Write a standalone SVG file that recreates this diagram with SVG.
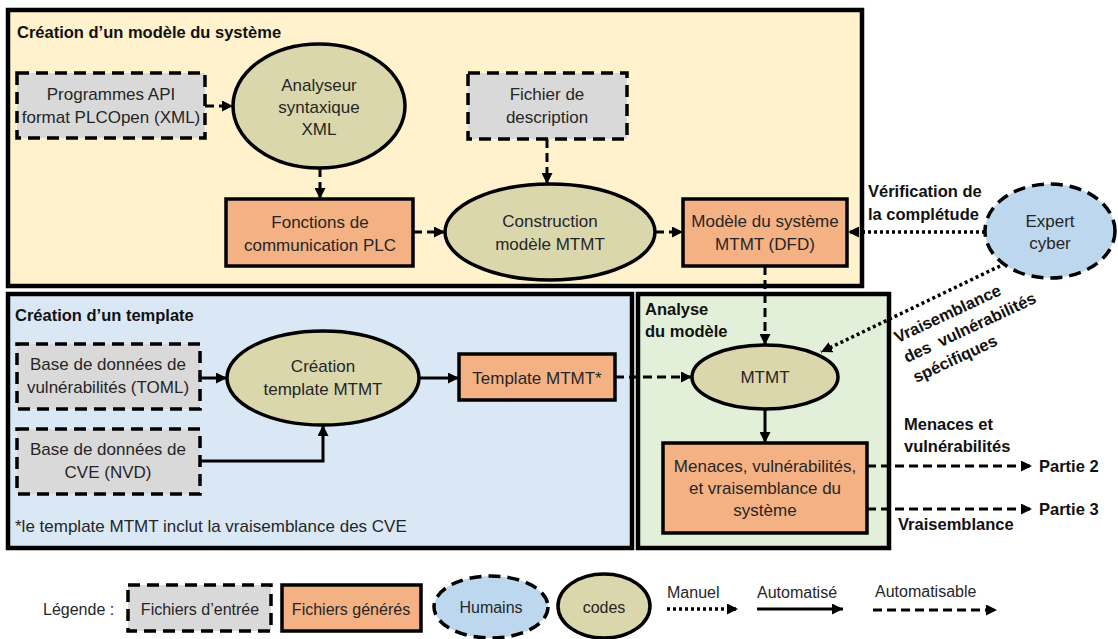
<svg xmlns="http://www.w3.org/2000/svg" width="1118" height="639" viewBox="0 0 1118 639">
<style>
text{font-family:"Liberation Sans",Arial,sans-serif;font-size:17px;fill:#262626;text-anchor:middle}
.b{font-weight:bold;font-size:16.5px;fill:#111;text-anchor:start}
.l{text-anchor:start}
.lg{font-size:16px}
.area{stroke:#000;stroke-width:4.5}
.in{fill:#D9D9D9;stroke:#000;stroke-width:3.5;stroke-dasharray:12 7}
.gen{fill:#F4B183;stroke:#000;stroke-width:3.5}
.code{fill:#DAD7AC;stroke:#000;stroke-width:3.5}
.hum{fill:#BDD7EE;stroke:#000;stroke-width:3.5;stroke-dasharray:12 7}
.c{fill:none;stroke:#000;stroke-width:3}
.dash{stroke-dasharray:9 5}
.dot{stroke-dasharray:3 3;stroke-width:3.5}
</style>
<defs>
<marker id="ah" viewBox="0 0 10 10" refX="10" refY="5" markerWidth="11" markerHeight="11" markerUnits="userSpaceOnUse" orient="auto"><path d="M0,0 L10,5 L0,10 z" fill="#000"/></marker>
</defs>
<rect width="1118" height="639" fill="#fff"/>

<g id="area-systeme">
<rect class="area" x="8" y="10" width="854" height="276" fill="#FFF2CC"/>
<text class="b" x="17" y="38">Création d’un modèle du système</text>
</g>
<g id="area-template">
<rect class="area" x="8" y="294" width="624" height="254" fill="#DAE8F6"/>
<text class="b" x="15" y="321">Création d’un template</text>
<text class="l" x="15" y="532">*le template MTMT inclut la vraisemblance des CVE</text>
</g>
<g id="area-analyse">
<rect class="area" x="638" y="294" width="251" height="254" fill="#E2F0D9"/>
<text class="b" x="645" y="315">Analyse</text>
<text class="b" x="645" y="337">du modèle</text>
</g>

<g id="programmes">
<rect class="in" x="17" y="73" width="188" height="65"/>
<text x="111" y="100">Programmes API</text>
<text x="111" y="123">format PLCOpen (XML)</text>
</g>
<g id="analyseur">
<ellipse class="code" cx="319" cy="106" rx="86" ry="62"/>
<text x="319" y="91">Analyseur</text>
<text x="319" y="113">syntaxique</text>
<text x="319" y="135">XML</text>
</g>
<g id="fichier-description">
<rect class="in" x="468" y="73" width="159" height="66"/>
<text x="547" y="100">Fichier de</text>
<text x="547" y="123">description</text>
</g>
<g id="fonctions">
<rect class="gen" x="226" y="199" width="187" height="67"/>
<text x="320" y="228">Fonctions de</text>
<text x="320" y="251">communication PLC</text>
</g>
<g id="construction">
<ellipse class="code" cx="550" cy="232" rx="105" ry="48"/>
<text x="550" y="227">Construction</text>
<text x="550" y="250">modèle MTMT</text>
</g>
<g id="modele">
<rect class="gen" x="683" y="199" width="164" height="67"/>
<text x="765" y="227">Modèle du système</text>
<text x="765" y="250">MTMT (DFD)</text>
</g>
<g id="expert">
<ellipse class="hum" cx="1050" cy="231" rx="65" ry="47"/>
<text x="1050" y="227">Expert</text>
<text x="1050" y="249">cyber</text>
</g>

<g id="base-toml">
<rect class="in" x="17" y="344" width="183" height="65"/>
<text x="108" y="370">Base de données de</text>
<text x="108" y="393">vulnérabilités (TOML)</text>
</g>
<g id="base-cve">
<rect class="in" x="17" y="429" width="183" height="65"/>
<text x="108" y="455">Base de données de</text>
<text x="108" y="478">CVE (NVD)</text>
</g>
<g id="creation-template">
<ellipse class="code" cx="323" cy="378" rx="96" ry="47"/>
<text x="323" y="372">Création</text>
<text x="323" y="395">template MTMT</text>
</g>
<g id="template">
<rect class="gen" x="459" y="354" width="156" height="46"/>
<text x="537" y="384">Template MTMT*</text>
</g>
<g id="mtmt">
<ellipse class="code" cx="765" cy="377" rx="73" ry="32"/>
<text x="765" y="383">MTMT</text>
</g>
<g id="menaces">
<rect class="gen" x="663" y="443" width="204" height="90"/>
<text x="765" y="472">Menaces, vulnérabilités,</text>
<text x="765" y="494">et vraisemblance du</text>
<text x="765" y="516">système</text>
</g>

<g id="connectors">
<path class="c dash" d="M205,106 H233" marker-end="url(#ah)"/>
<path class="c dash" d="M320,168 V199" marker-end="url(#ah)"/>
<path class="c dash" d="M547,139 V184" marker-end="url(#ah)"/>
<path class="c dash" d="M413,232 H445" marker-end="url(#ah)"/>
<path class="c dash" d="M655,232 H683" marker-end="url(#ah)"/>
<path class="c dot" d="M985,232 H848" marker-end="url(#ah)"/>
<path class="c dash" d="M765,266 V345" marker-end="url(#ah)"/>
<path class="c dot" d="M1000,266 L821,352" marker-end="url(#ah)"/>
<path class="c" d="M200,378 H227" marker-end="url(#ah)"/>
<path class="c" d="M200,461 H323 V425" marker-end="url(#ah)"/>
<path class="c" d="M419,378 H459" marker-end="url(#ah)"/>
<path class="c dash" d="M615,377 H692" marker-end="url(#ah)"/>
<path class="c" d="M765,409 V443" marker-end="url(#ah)"/>
<path class="c dash" d="M867,466 H1032" marker-end="url(#ah)"/>
<path class="c dash" d="M867,509 H1032" marker-end="url(#ah)"/>
</g>

<g id="labels">
<text class="b" x="868" y="197">Vérification de</text>
<text class="b" x="868" y="220">la complétude</text>
<g transform="translate(960,335) rotate(-25)">
<text class="b" x="-60" y="-19">Vraisemblance</text>
<text class="b" x="-60" y="3" xml:space="preserve">des  vulnérabilités</text>
<text class="b" x="-60" y="25">spécifiques</text>
</g>
<text class="b" x="904" y="430">Menaces et</text>
<text class="b" x="904" y="452">vulnérabilités</text>
<text class="b" x="1039" y="472">Partie 2</text>
<text class="b" x="1039" y="515">Partie 3</text>
<text class="b" x="898" y="530">Vraisemblance</text>
</g>

<g id="legende">
<text class="l lg" x="43" y="615">Légende :</text>
<rect class="in" x="128" y="585" width="143" height="46"/>
<text class="lg" x="200" y="615">Fichiers d’entrée</text>
<rect class="gen" x="282" y="585" width="139" height="46"/>
<text class="lg" x="351" y="615">Fichiers générés</text>
<ellipse class="hum" cx="491" cy="607" rx="57" ry="31"/>
<text class="lg" x="491" y="613">Humains</text>
<ellipse class="code" cx="604" cy="606" rx="46" ry="32"/>
<text class="lg" x="604" y="613">codes</text>
<text class="l lg" x="667" y="598">Manuel</text>
<path class="c dot" d="M667,609 H738" marker-end="url(#ah)"/>
<text class="l lg" x="757" y="598">Automatisé</text>
<path class="c" d="M757,609 H843" marker-end="url(#ah)"/>
<text class="l lg" x="875" y="597">Automatisable</text>
<path class="c dash" d="M873,610 H997" marker-end="url(#ah)"/>
</g>
</svg>
